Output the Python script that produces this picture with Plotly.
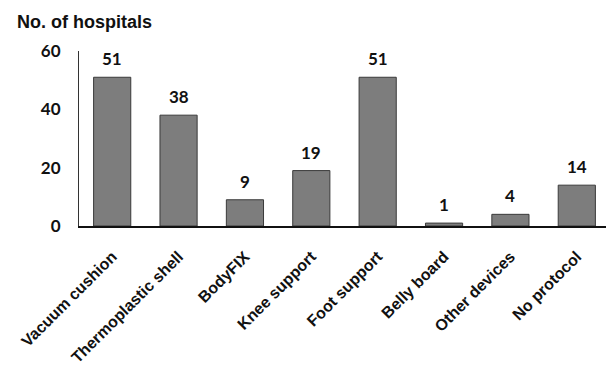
import plotly.graph_objects as go

# Positioning devices reported by hospitals
categories = ["Vacuum cushion", "Thermoplastic shell", "BodyFIX", "Knee support",
              "Foot support", "Belly board", "Other devices", "No protocol"]
hospitals = [51, 38, 9, 19, 51, 1, 4, 14]
y_ticks = [0, 20, 40, 60]

label_font = dict(family="Lato, Open Sans, sans-serif", size=17, color="#111111", weight="bold")
cat_font = dict(family="Liberation Sans, Arial, sans-serif", size=16, color="#111111", weight="bold")

fig = go.Figure(
    go.Bar(
        x=categories,
        y=hospitals,
        width=0.56,
        marker=dict(color="#7d7d7d", line=dict(color="#3a3a3a", width=1)),
        hoverinfo="x+y",
    )
)

# Value labels above each bar
for cat, val in zip(categories, hospitals):
    fig.add_annotation(
        x=cat, y=val, text=str(val), showarrow=False,
        yanchor="bottom", yshift=6, font=label_font,
    )

fig.update_layout(
    width=606,
    height=373,
    margin=dict(l=79, r=0, t=51, b=147),
    plot_bgcolor="white",
    paper_bgcolor="white",
    showlegend=False,
    title=dict(
        text="No. of hospitals",
        x=17 / 606, xanchor="left",
        yref="container", y=1 - 22 / 373, yanchor="middle",
        font=dict(family="Liberation Sans, Arial, sans-serif", size=18,
                  color="#111111", weight="bold"),
    ),
    xaxis=dict(
        range=[-0.5, 7.44],
        tickangle=-45,
        tickfont=cat_font,
        ticklabelstandoff=13,
        showline=True, linecolor="#111111", linewidth=2,
        ticks="", showgrid=False, zeroline=False,
    ),
    yaxis=dict(
        range=[0, 60],
        tickvals=y_ticks,
        tickfont=label_font,
        showline=True, linecolor="#333333", linewidth=1,
        ticks="", ticklabelstandoff=14,
        showgrid=False, zeroline=False,
    ),
)

fig.write_html("out.html")
